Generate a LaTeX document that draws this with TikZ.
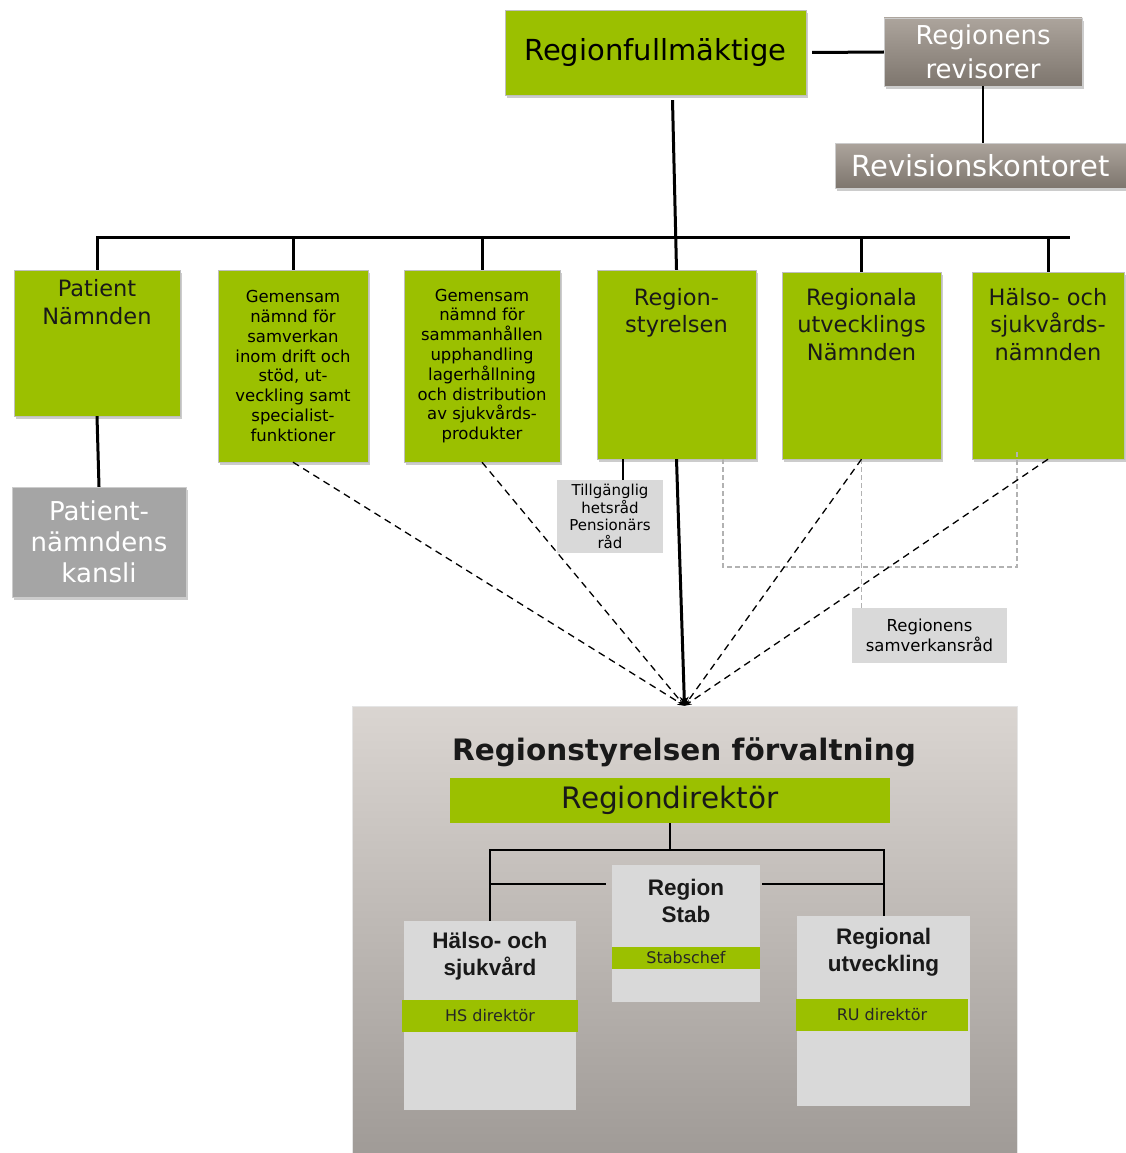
\documentclass[tikz,border=0pt]{standalone}
\usepackage{fontspec}
\setmainfont{DejaVu Sans}
\newfontfamily\arialfont{Liberation Sans}
\usetikzlibrary{positioning,shadows,arrows.meta}

\definecolor{rgreen}{RGB}{155,192,0}
\definecolor{rlight}{RGB}{217,217,217}
\definecolor{rkansli}{RGB}{165,165,165}
\definecolor{rbrownt}{RGB}{172,164,156}
\definecolor{rbrownb}{RGB}{126,118,110}
\definecolor{rpanelt}{RGB}{218,213,209}
\definecolor{rpanelb}{RGB}{160,155,151}

\newcommand{\fsz}[2]{\fontsize{#1}{#2}\selectfont}

\tikzset{
  shade box/.style={drop shadow={shadow xshift=2pt,shadow yshift=-3pt,fill=black!40,opacity=.5}},
  gbox/.style={draw=black!25,fill=rgreen,inner sep=0pt,shade box},
  bbox/.style={draw=black!20,top color=rbrownt,bottom color=rbrownb,inner sep=0pt,text=white,shade box},
  lbox/.style={fill=rlight,inner sep=0pt},
  band/.style={fill=rgreen,inner sep=0pt,font=\fsz{16}{19},text=black!85},
  btext/.style={inner sep=0pt,align=center,text=black!90},
  bline/.style={line width=3pt},
  tline/.style={line width=1.2pt},
  mline/.style={line width=2pt},
  dline/.style={dash pattern=on 7pt off 5pt,line width=1.3pt,-{Stealth[length=7pt,width=6pt]}},
  gline/.style={dash pattern=on 5pt off 3pt,black!30,line width=1.2pt}
}

\begin{document}
\begin{tikzpicture}[x=1pt,y=-1pt,node distance=8pt]
 \useasboundingbox (0,0) rectangle (1126,1153);

 \node[gbox,minimum width=301pt,minimum height=85pt,font=\fsz{29}{34}] (RF) at (655.5,52.5) {Regionfullmäktige};
 \node[bbox,minimum width=198pt,minimum height=68pt,align=center,font=\fsz{26}{34}] (RR) at (983,52) {Regionens\\revisorer};
 \node[bbox,minimum width=291pt,minimum height=45pt,font=\fsz{29}{34}] (RK) at (980.5,165.5) {Revisionskontoret};

 \node[gbox,minimum width=166pt,minimum height=146pt] (PN) at (97,343) {};
 \node[btext,font=\fsz{22.5}{28},below=9pt of PN.north] (PNt) {Patient\\Nämnden};
 \node[gbox,minimum width=150pt,minimum height=192pt,align=center,font=\fsz{16.5}{19.8}] (GS1) at (293,366)
   {Gemensam\\nämnd för\\samverkan\\inom drift och\\stöd, ut-\\veckling samt\\specialist-\\funktioner};
 \node[gbox,minimum width=156pt,minimum height=192pt,align=center,font=\fsz{16.5}{19.8}] (GS2) at (482,366)
   {Gemensam\\nämnd för\\sammanhållen\\upphandling\\lagerhållning\\och distribution\\av sjukvårds-\\produkter};
 \node[gbox,minimum width=159pt,minimum height=189pt] (RS) at (676.5,364.5) {};
 \node[btext,font=\fsz{22.5}{27.5},below=18pt of RS.north] (RSt) {Region-\\styrelsen};
 \node[gbox,minimum width=159pt,minimum height=187pt] (RU) at (861.5,365.5) {};
 \node[btext,font=\fsz{22.5}{27.5},below=16pt of RU.north] (RUt) {Regionala\\utvecklings\\Nämnden};
 \node[gbox,minimum width=152pt,minimum height=187pt] (HS) at (1048,365.5) {};
 \node[btext,font=\fsz{22.5}{27.5},below=16pt of HS.north] (HSt) {Hälso- och\\sjukvårds-\\nämnden};

 \node[fill=rkansli,draw=black!20,inner sep=0pt,minimum width=174pt,minimum height=110pt,align=center,text=white,
   font=\fsz{26}{31},shade box] (PK) at (99,542) {Patient-\\nämndens\\kansli};
 \node[lbox,minimum width=106pt,minimum height=73pt,align=center,font=\fsz{15}{17.5}] (TR) at (610,516.5)
   {Tillgänglig\\hetsråd\\Pensionärs\\råd};
 \node[lbox,minimum width=155pt,minimum height=55pt,align=center,font=\fsz{16.5}{19.5}] (SR) at (929.5,635.5)
   {Regionens\\samverkansråd};

 \node[top color=rpanelt,bottom color=rpanelb,draw=black!10,inner sep=0pt,minimum width=665pt,minimum height=447pt] (FV) at (684.5,929.5) {};
 \node[font=\bfseries\fsz{29.5}{34},text=black!90] (FVt) at (684,752) {Regionstyrelsen förvaltning};
 \node[fill=rgreen,inner sep=0pt,minimum width=440pt,minimum height=45pt,font=\fsz{29.5}{34},text=black!90] (RD) at (670,800.5) {Regiondirektör};

 \node[lbox,minimum width=148pt,minimum height=137pt] (STAB) at (686,933.5) {};
 \node[btext,font=\arialfont\bfseries\fsz{22.5}{27},below=14pt of STAB.north] (STABt) {Region\\Stab};
 \node[band,minimum width=148pt,minimum height=22pt] (STABc) at (686,958) {Stabschef};
 \node[lbox,minimum width=172pt,minimum height=189pt] (HSV) at (490,1015.5) {};
 \node[btext,font=\arialfont\bfseries\fsz{22.5}{27},below=11pt of HSV.north] (HSVt) {Hälso- och\\sjukvård};
 \node[band,minimum width=176pt,minimum height=32pt] (HSVc) at (490,1016) {HS direktör};
 \node[lbox,minimum width=173pt,minimum height=190pt] (RUV) at (883.5,1011) {};
 \node[btext,font=\arialfont\bfseries\fsz{22.5}{27},below=12pt of RUV.north] (RUVt) {Regional\\utveckling};
 \node[band,minimum width=172pt,minimum height=32pt] (RUVc) at (882,1015) {RU direktör};

 \coordinate (BUS) at (0,237);
 \coordinate (BUSR) at (1070,237);
 \coordinate (LOOP) at (1017,567);
 \coordinate (FBUS) at (0,850);
 \coordinate (SBUS) at (0,884);

 \draw[bline] ([xshift=6pt]RF.east) -- (RR.west);
 \draw[tline] (RR.south) -- (RR.south |- RK.north);
 \draw[bline] ([xshift=17pt,yshift=-5pt]RF.south) -- (RS.north);
 \draw[bline] (PN.north) -- (PN.north |- BUS) -- (BUSR);
 \draw[bline] (GS1.north) -- (GS1.north |- BUS);
 \draw[bline] (GS2.north) -- (GS2.north |- BUS);
 \draw[bline] (RU.north) -- (RU.north |- BUS);
 \draw[bline] (HS.north) -- (HS.north |- BUS);
 \draw[bline] (PN.south) -- (PK.north);
 \draw[tline] ([xshift=13pt]TR.north) -- ([xshift=13pt]TR.north |- RS.south);

 \draw[gline] ([xshift=46.5pt]RS.south) |- (LOOP) -- ([xshift=-31pt,yshift=9pt]HS.south);
 \draw[gline] (RU.south) -- (RU.south |- SR.north);

 \draw[dline] (GS1.south) -- (FV.north);
 \draw[dline] (GS2.south) -- (FV.north);
 \draw[dline] (RU.south) -- (FV.north);
 \draw[dline] (HS.south) -- (FV.north);
 \draw[bline,-{Stealth[length=9pt,width=9pt]}] (RS.south) -- (FV.north);

 \draw[mline] (RD.south) -- (RD.south |- FBUS);
 \draw[mline] (HSV.north) -- (HSV.north |- FBUS) -- (RUV.north |- FBUS) -- (RUV.north);
 \draw[mline] (HSV.north |- SBUS) -- ([xshift=-6pt]STAB.west |- SBUS);
 \draw[mline] ([xshift=2pt]STAB.east |- SBUS) -- (RUV.north |- SBUS);
\end{tikzpicture}
\end{document}
